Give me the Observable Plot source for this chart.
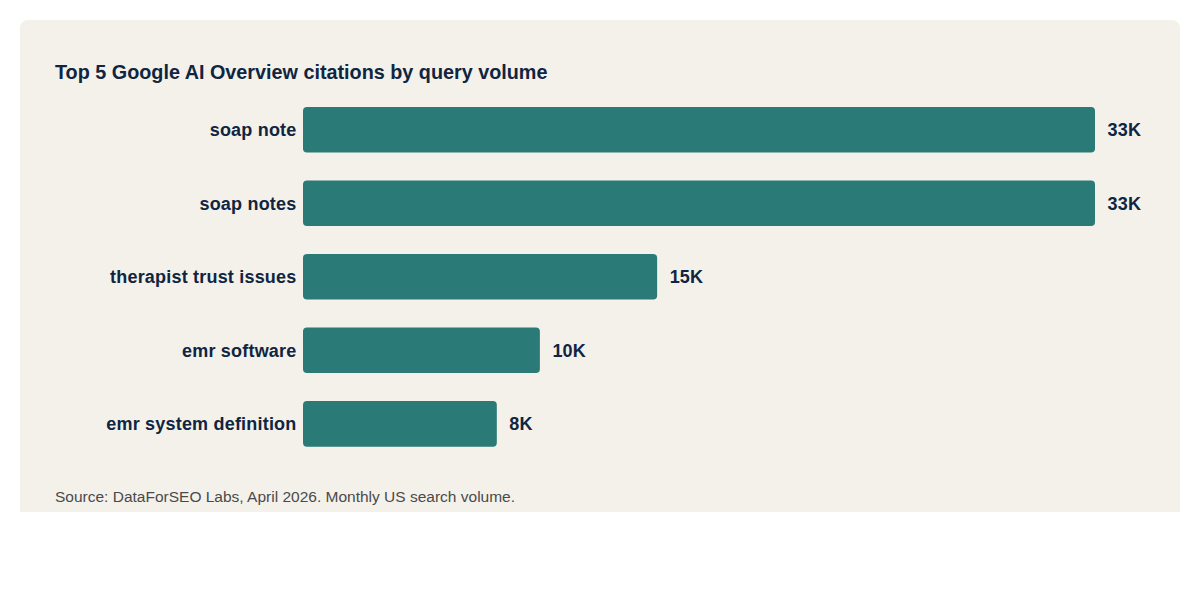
<!DOCTYPE html>
<html>
<head>
<meta charset="utf-8">
<script src="https://cdn.jsdelivr.net/npm/d3@7"></script>
<script src="https://cdn.jsdelivr.net/npm/@observablehq/plot@0.6"></script>
<style>
  html, body { margin: 0; padding: 0; background: #ffffff; }
  body { width: 1200px; height: 600px; position: relative; font-family: "Liberation Sans", Arial, Helvetica, sans-serif; }
  #card { position: absolute; left: 20px; top: 20px; width: 1160px; height: 492px; background: #f4f1ea; border-radius: 8px 8px 0 0; box-sizing: border-box; padding: 0 35px; }
  #title { position: absolute; left: 35px; top: 40px; font-size: 19.8px; font-weight: bold; color: #0f2541; margin: 0; line-height: 24px; white-space: nowrap; }
  #chart { position: absolute; left: 35px; top: 74px; }
  #source { position: absolute; left: 35px; top: 468px; font-size: 15.5px; color: #4a4a4a; line-height: 18px; white-space: nowrap; }
</style>
</head>
<body>
<div id="card">
  <div id="title">Top 5 Google AI Overview citations by query volume</div>
  <div id="chart"></div>
  <div id="source">Source: DataForSEO Labs, April 2026. Monthly US search volume.</div>
</div>
<script>
const queries = ["soap note", "soap notes", "therapist trust issues", "emr software", "emr system definition"];
const volumes = [33100, 33100, 14800, 9900, 8100];
const valueLabels = ["33K", "33K", "15K", "10K", "8K"];

const data = queries.map((q, i) => ({query: q, volume: volumes[i], label: valueLabels[i]}));

const chart = Plot.plot({
  width: 1090,
  height: 360,
  marginTop: 5.6,
  marginBottom: 0,
  marginLeft: 248,
  marginRight: 50,
  style: {background: "transparent", fontFamily: "Liberation Sans, Arial, sans-serif", overflow: "visible", letterSpacing: "0.2px"},
  x: {domain: [0, 33100], axis: null},
  y: {domain: queries, paddingInner: 0.38, paddingOuter: 0.1, round: false, label: null},
  marks: [
    Plot.barX(data, {x: "volume", y: "query", fill: "#2a7a77", rx: 4}),
    Plot.text(data, {x: "volume", y: "query", text: "label", textAnchor: "start", dx: 12, fill: "#0f2541", fontSize: 18, fontWeight: "bold"}),
    Plot.axisY({tickSize: 0, tickPadding: 7, fontSize: 18, fontWeight: "bold", color: "#0f2541", label: null})
  ]
});
chart.querySelectorAll("g[aria-label='y-axis tick label'] text").forEach(t => { t.setAttribute("fill", "#0f2541"); });
document.getElementById("chart").appendChild(chart);
</script>
</body>
</html>
